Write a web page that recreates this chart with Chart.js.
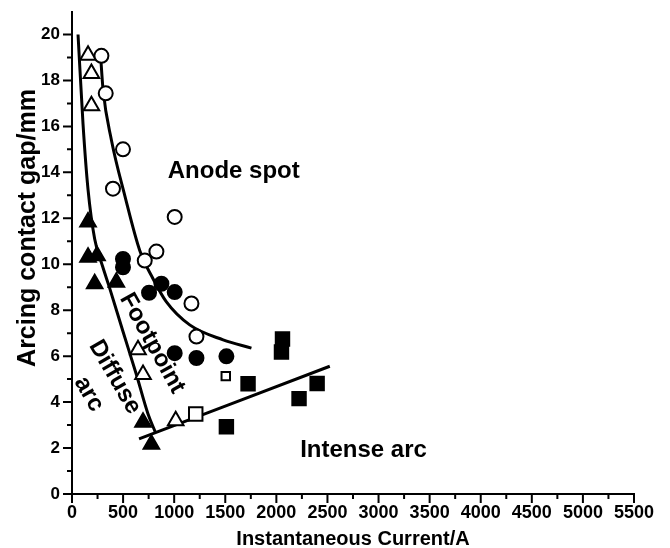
<!DOCTYPE html>
<html>
<head>
<meta charset="utf-8">
<script src="https://cdn.jsdelivr.net/npm/chart.js@4/dist/chart.umd.min.js"></script>
<style>
  html, body { margin: 0; padding: 0; background: #fff; }
  #wrap { width: 670px; height: 548px; }
</style>
</head>
<body>
<div id="wrap"><canvas id="gapChart" width="670" height="548"></canvas></div>
<script>
// axis ticks
const xTicks = [0, 500, 1000, 1500, 2000, 2500, 3000, 3500, 4000, 4500, 5000, 5500];
const yTicks = [0, 2, 4, 6, 8, 10, 12, 14, 16, 18, 20];

// measured points (current A, gap mm)
const openCircleX = [288, 330, 499, 401, 1005, 826, 712, 1169, 1218];
const openCircleY = [19.07, 17.44, 15.0, 13.29, 12.06, 10.55, 10.16, 8.29, 6.85];

const filledCircleX = [499, 499, 875, 754, 1005, 1005, 1218, 1511];
const filledCircleY = [10.23, 9.87, 9.15, 8.76, 8.79, 6.13, 5.92, 5.99];

const openTriX = [157, 190, 190, 646, 695, 1015];
const openTriY = [19.1, 18.3, 16.9, 6.28, 5.2, 3.19];

const filledTriX = [157, 157, 245, 222, 434, 695, 777];
const filledTriY = [11.84, 10.3, 10.37, 9.15, 9.22, 3.12, 2.16];

const openSqBigX = [1211];
const openSqBigY = [3.48];
const openSqSmallX = [1505];
const openSqSmallY = [5.13];

const filledSqX = [1723, 1511, 2060, 2050, 2399, 2222];
const filledSqY = [4.8, 2.93, 6.75, 6.18, 4.81, 4.15];

// boundary curves
const diffuseEdgeX = [59, 108, 157, 222, 300, 370, 499, 630, 744, 815];
const diffuseEdgeY = [20, 16.1, 13.25, 11.1, 9.9, 8.94, 7.07, 5.2, 3.48, 2.7];

const anodeEdgeX = [278, 304, 386, 516, 663, 793, 924, 1152, 1479, 1756];
const anodeEdgeY = [19.2, 17.6, 15.4, 13.0, 10.6, 9.37, 8.36, 7.36, 6.71, 6.35];

const intenseEdgeX = [656, 2523];
const intenseEdgeY = [2.4, 5.56];

// region labels
const regionText = ["Anode spot", "Intense arc", "Footpoint", "Diffuse", "arc"];
const regionX = [1583, 2853, 785, 418, 165];
const regionY = [14.06, 1.9, 6.56, 5.09, 4.35];
const regionAngle = [0, 0, 61, 60, 60];

const pts = (xs, ys) => xs.map((x, i) => ({ x, y: ys[i] }));

function markers(xs, ys, style, radius, filled) {
  return {
    data: pts(xs, ys),
    showLine: false,
    pointStyle: style,
    pointRadius: radius,
    pointBackgroundColor: filled ? "#000" : "#fff",
    pointBorderColor: "#000",
    pointBorderWidth: 2
  };
}

function curve(xs, ys) {
  return {
    data: pts(xs, ys),
    showLine: true,
    borderColor: "#000",
    borderWidth: 3,
    pointRadius: 0,
    tension: 0.4,
    cubicInterpolationMode: "monotone"
  };
}

// ticks, titles and region labels
const decor = {
  id: "decor",
  afterDraw(chart) {
    const ctx = chart.ctx;
    const xs = chart.scales.x, ys = chart.scales.y;
    const a = chart.chartArea;
    ctx.save();
    ctx.strokeStyle = "#000";
    ctx.lineWidth = 2;
    ctx.beginPath();
    for (let v = 0; v <= 5500; v += 250) {
      const px = xs.getPixelForValue(v);
      ctx.moveTo(px, a.bottom);
      ctx.lineTo(px, a.bottom + (v % 500 === 0 ? 9 : 5));
    }
    for (let v = 0; v <= 20; v += 1) {
      const py = ys.getPixelForValue(v);
      ctx.moveTo(a.left, py);
      ctx.lineTo(a.left - (v % 2 === 0 ? 9 : 5), py);
    }
    ctx.stroke();

    ctx.fillStyle = "#000";
    ctx.textAlign = "center";
    ctx.textBaseline = "alphabetic";
    ctx.font = "bold 20px 'Liberation Sans', Arial, sans-serif";
    ctx.fillText("Instantaneous Current/A", (a.left + a.right) / 2, 545);

    ctx.save();
    ctx.translate(35, 228);
    ctx.rotate(-Math.PI / 2);
    ctx.font = "bold 25px 'Liberation Sans', Arial, sans-serif";
    ctx.fillText("Arcing contact gap/mm", 0, 0);
    ctx.restore();

    ctx.font = "bold 24px 'Liberation Sans', Arial, sans-serif";
    ctx.textBaseline = "middle";
    regionText.forEach((t, i) => {
      ctx.save();
      ctx.translate(xs.getPixelForValue(regionX[i]), ys.getPixelForValue(regionY[i]));
      ctx.rotate(regionAngle[i] * Math.PI / 180);
      ctx.fillText(t, 0, 0);
      ctx.restore();
    });
    ctx.restore();
  }
};

new Chart(document.getElementById("gapChart"), {
  type: "scatter",
  data: {
    datasets: [
      markers(openCircleX, openCircleY, "circle", 7, false),
      markers(filledCircleX, filledCircleY, "circle", 7, true),
      markers(openTriX, openTriY, "triangle", 9, false),
      markers(filledTriX, filledTriY, "triangle", 9, true),
      markers(openSqBigX, openSqBigY, "rect", 9.5, false),
      markers(openSqSmallX, openSqSmallY, "rect", 6, false),
      markers(filledSqX, filledSqY, "rect", 9.5, true),
      curve(diffuseEdgeX, diffuseEdgeY),
      curve(anodeEdgeX, anodeEdgeY),
      curve(intenseEdgeX, intenseEdgeY)
    ]
  },
  options: {
    responsive: false,
    animation: false,
    layout: { padding: { top: 7, right: 36, left: 0, bottom: 0 } },
    plugins: { legend: { display: false }, tooltip: { enabled: false } },
    scales: {
      x: {
        type: "linear",
        min: 0,
        max: 5500,
        afterBuildTicks: s => { s.ticks = xTicks.map(v => ({ value: v })); },
        afterFit: s => { s.height = 54; s.paddingLeft = 0; s.paddingRight = 0; },
        grid: { display: true, drawOnChartArea: false, drawTicks: false },
        border: { display: true, color: "#000", width: 2 },
        ticks: {
          color: "#000",
          padding: 8,
          maxRotation: 0,
          callback: v => String(v),
          font: { family: "'Liberation Sans', Arial, sans-serif", size: 18, weight: "bold" }
        }
      },
      y: {
        type: "linear",
        min: 0,
        max: 21,
        afterBuildTicks: s => { s.ticks = yTicks.map(v => ({ value: v })); },
        afterFit: s => { s.width = 72; s.paddingTop = 0; s.paddingBottom = 0; },
        grid: { display: true, drawOnChartArea: false, drawTicks: false },
        border: { display: true, color: "#000", width: 2 },
        ticks: {
          color: "#000",
          padding: 12,
          callback: v => String(v),
          font: { family: "'Liberation Sans', Arial, sans-serif", size: 17, weight: "bold" }
        }
      }
    }
  },
  plugins: [decor]
});
</script>
</body>
</html>
